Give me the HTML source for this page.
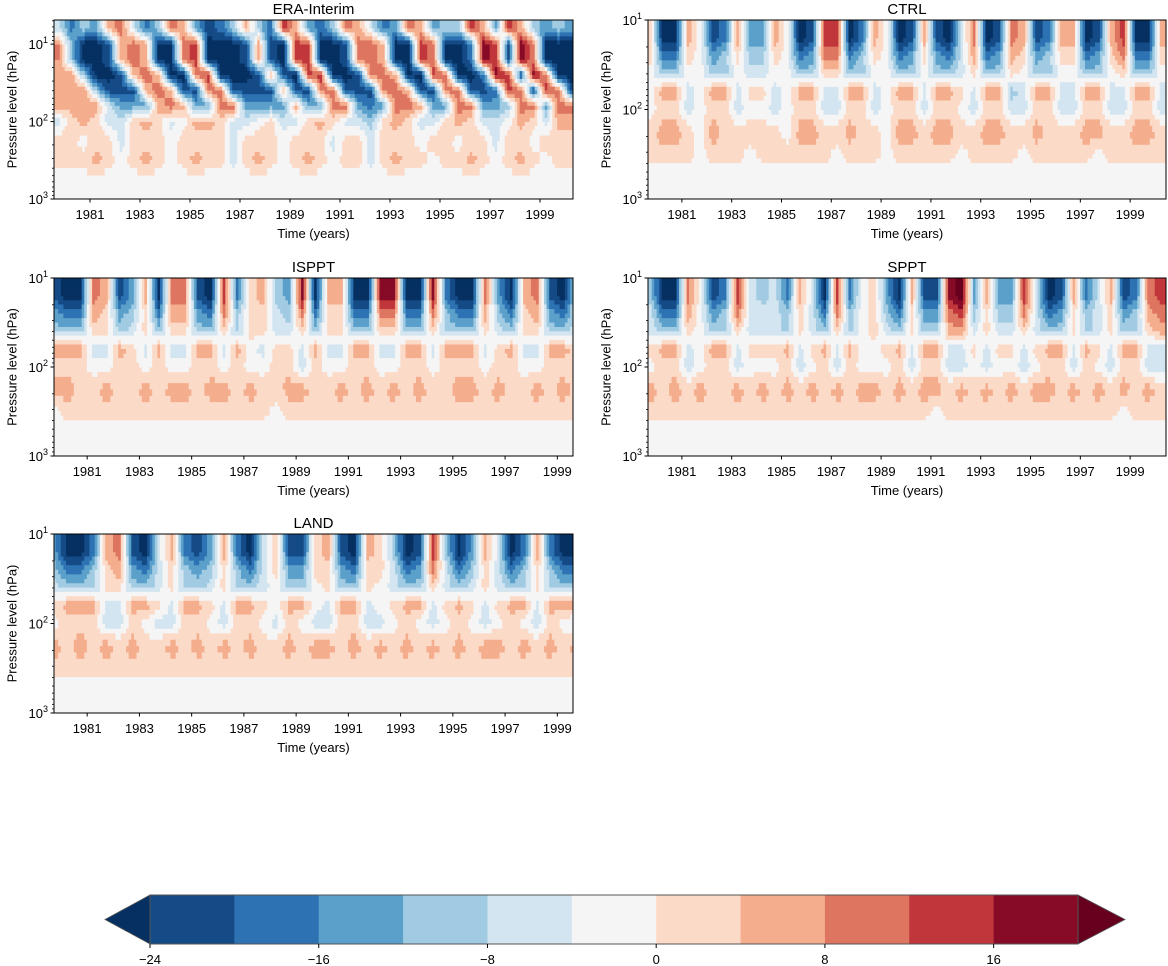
<!DOCTYPE html>
<html><head><meta charset="utf-8"><title>Zonal wind time-pressure panels</title>
<style>
html,body{margin:0;padding:0;background:#fff;}
svg{display:block;font-family:"Liberation Sans","DejaVu Sans",sans-serif;}
</style></head>
<body>
<svg id="fig" width="1168" height="966" viewBox="0 0 1168 966" xmlns="http://www.w3.org/2000/svg"></svg>
<script>
// ---- shared data ----
const colLevels = [-24,-20,-16,-12,-8,-4,0,4,8,12,16,20];
const binColors = ['#144b86','#2d73b3','#5aa0ca','#a0cbe2','#d3e5f0','#f5f5f5','#fcdac8','#f4ae8d','#de7561','#c0363b','#870b27'];
const underColor = '#053061';
const overColor = '#67001f';
const cbTickLabels = [-24,-16,-8,0,8,16];
const xTickYears = [1981,1983,1985,1987,1989,1991,1993,1995,1997,1999];
const colStart = 1979.5;   // first half-year column start
const colWidthYears = 0.5;
// pressure boundaries of rows (hPa), top to bottom
const eraBounds = [5,8,13,20,32,50,80,130,250,400,1000];
const modelBounds = [10,13,20,32,50,80,130,250,400,1000];

// ---- ERA-Interim (rows 5-8 ... 400-1000 hPa), m/s ----
const eraR0=[-6,-18,-10,-14,6,10,-6,-18,-10,10,6,-14,-22,-18,-10,6,-10,-18,14,6,-14,-18,-10,10,6,-6,-18,-14,10,6,-14,-10,-10,14,6,-14,14,6,-10,-14,-10,-14];
const eraR1=[8,-10,-26,-26,-22,6,10,6,-26,-26,10,14,-26,-26,-26,-22,6,-22,-26,14,14,-26,-26,-22,10,10,6,-26,-26,14,10,-26,-26,-18,18,14,-22,18,10,-26,-26,-26];
const eraR2=[8,-10,-26,-26,-22,6,10,6,-26,-26,10,14,-26,-26,-26,-22,6,-22,-26,14,14,-26,-26,-22,10,10,6,-26,-26,14,10,-26,-26,-18,18,14,-22,18,10,-26,-26,-26];
const eraR3=[6,8,-10,-26,-26,-22,6,10,6,-26,-26,10,14,-26,-26,-26,-22,6,-22,-26,14,14,-26,-26,-22,10,10,6,-26,-26,14,10,-26,-26,-18,18,14,-22,18,10,-26,-26];
const eraR4=[6,6,8,-10,-22,-22,-22,6,10,6,-22,-22,10,10,-22,-22,-22,-22,6,-22,-22,10,10,-22,-22,-22,10,10,6,-22,-22,10,10,-22,-22,-18,14,10,-22,14,10,-22];
const eraR5=[6,6,6,6,-6,-14,-14,-14,6,10,6,-14,-14,10,10,-14,-14,-14,-14,6,-14,-14,10,10,-14,-18,-14,10,10,6,-14,-14,10,10,-14,-14,-10,10,10,-14,10,10];
const eraR6=[-6,2,6,2,-6,-6,2,6,2,-6,-2,6,6,2,-6,-6,-2,2,-6,-6,2,6,2,-6,-6,-10,2,6,2,-6,-6,2,6,2,-6,-6,-2,6,2,-6,6,6];
const eraR7=[2,2,-2,2,2,-6,2,2,2,-2,2,2,2,2,-6,2,2,2,-2,2,2,2,-6,2,2,-6,2,2,2,-2,2,2,-2,2,2,-6,2,2,-2,2,2,2];
const eraR8=[2,2,2,6,2,-2,2,6,2,-2,2,6,2,2,-6,2,6,2,-2,2,6,2,-2,2,2,-6,2,6,2,2,-2,2,2,6,2,-2,2,6,2,-2,2,2];
const eraR9=[-2,-2,-2,-2,-2,-2,-2,-2,-2,-2,-2,-2,-2,-2,-2,-2,-2,-2,-2,-2,-2,-2,-2,-2,-2,-2,-2,-2,-2,-2,-2,-2,-2,-2,-2,-2,-2,-2,-2,-2,-2,-2];

// ---- CTRL ----
const ctrlR1=[2,-26,-26,6,-2,-22,-18,6,-14,-14,6,-2,-26,-22,14,14,-26,-18,6,-2,-26,-22,6,-22,-26,-6,10,-26,-22,10,6,-22,-18,6,6,-26,-22,6,14,-26,-26,6];
const ctrlR2=[2,-26,-26,6,-2,-22,-18,6,-14,-14,6,-2,-26,-22,14,14,-26,-18,6,-2,-26,-22,6,-22,-26,-6,10,-26,-22,10,6,-22,-18,6,6,-26,-22,6,14,-26,-26,6];
const ctrlR3=[2,-18,-18,2,-2,-14,-10,2,-10,-10,2,-2,-18,-14,10,10,-18,-10,2,-2,-18,-14,2,-14,-18,-6,6,-18,-14,6,2,-14,-10,2,2,-18,-14,2,10,-18,-18,2];
const ctrlR4=[-2,-10,-10,-2,-2,-10,-10,-2,-6,-6,-2,-2,-10,-10,2,2,-10,-10,-2,-2,-10,-10,-2,-10,-10,-6,2,-10,-10,2,-2,-10,-10,-2,-2,-10,-10,-2,2,-10,-10,-2];
const ctrlR5=[-2,6,6,-6,-2,6,6,-6,2,2,-6,-2,6,6,-6,-6,6,6,-6,-2,6,6,-6,6,6,2,-6,6,6,-10,-6,6,6,-6,-6,6,6,-6,-6,6,6,-6];
const ctrlR6=[-2,2,2,-6,-2,2,2,-6,-2,-2,-6,-2,2,2,-6,-6,2,2,-6,-2,2,2,-6,2,2,-2,-6,2,2,-6,-6,2,2,-6,-6,2,2,-6,-6,2,2,-6];
const ctrlR7=[2,6,6,2,-2,6,2,2,2,2,2,-2,6,6,2,2,6,2,2,-2,6,6,2,6,6,2,2,6,6,2,2,6,2,2,2,6,6,2,2,6,6,2];
const ctrlR8=[2,2,2,2,-2,2,2,2,-2,2,2,2,2,2,2,-2,2,2,2,-2,2,2,2,2,2,-2,2,2,2,2,-2,2,2,2,2,2,-2,2,2,2,2,2];
const ctrlR9=[-2,-2,-2,-2,-2,-2,-2,-2,-2,-2,-2,-2,-2,-2,-2,-2,-2,-2,-2,-2,-2,-2,-2,-2,-2,-2,-2,-2,-2,-2,-2,-2,-2,-2,-2,-2,-2,-2,-2,-2,-2,-2];

// ---- ISPPT ----
const isR1=[-22,-26,-26,10,6,-22,-14,6,-26,10,10,-22,-26,14,-18,2,6,-10,-14,18,-26,6,6,-26,-26,18,18,-26,-26,18,-18,-26,-26,10,-14,-26,6,10,-22,-26,-6,-6];
const isR2=[-22,-26,-26,10,6,-22,-14,6,-26,10,10,-22,-26,14,-18,2,6,-10,-14,18,-26,6,6,-26,-26,18,18,-26,-26,18,-18,-26,-26,10,-14,-26,6,10,-22,-26,-6,-6];
const isR3=[-14,-18,-18,6,2,-14,-10,2,-18,6,6,-14,-18,10,-10,2,2,-6,-10,10,-18,2,2,-18,-18,10,10,-18,-18,10,-10,-18,-18,6,-10,-18,2,6,-14,-18,-6,-6];
const isR4=[-10,-10,-10,2,2,-10,-6,2,-10,2,2,-10,-10,2,-10,2,2,-6,-6,2,-10,2,2,-10,-10,2,2,-10,-10,2,-10,-10,-10,2,-6,-10,2,2,-10,-10,-6,-6];
const isR5=[6,6,6,-6,-6,6,2,-6,6,-6,-6,6,6,-6,6,-2,-6,2,2,-6,6,-6,-6,6,6,-6,-6,6,6,-6,6,6,6,-6,2,6,-6,-6,6,6,2,2];
const isR6=[2,2,2,-2,-2,2,2,-2,2,-2,-2,2,2,-2,2,-2,-2,2,2,-6,2,-2,-2,2,2,-2,-2,2,2,-2,2,2,2,-2,2,2,-2,-2,2,2,2,2];
const isR7=[6,6,2,2,6,2,2,6,2,6,6,2,6,6,2,6,2,2,6,6,2,2,6,2,6,2,6,2,6,2,2,6,6,2,6,2,2,6,2,6,2,2];
const isR8=[-2,2,2,2,2,2,2,2,2,2,2,2,2,2,2,2,2,-2,2,2,2,2,2,2,2,2,2,2,2,2,2,2,2,2,2,2,2,2,2,2,2,2];
const isR9=[-2,-2,-2,-2,-2,-2,-2,-2,-2,-2,-2,-2,-2,-2,-2,-2,-2,-2,-2,-2,-2,-2,-2,-2,-2,-2,-2,-2,-2,-2,-2,-2,-2,-2,-2,-2,-2,-2,-2,-2,-2,-2];

// ---- SPPT ----
const spR1=[-10,-26,-26,10,-2,-22,-18,14,-6,-10,-6,-18,6,-6,-26,14,-18,-2,2,-14,-26,6,-22,-22,18,22,-14,6,-14,-14,14,-6,-26,-22,6,-18,-6,6,-22,-18,10,14];
const spR2=[-10,-26,-26,10,-2,-22,-18,14,-6,-10,-6,-18,6,-6,-26,14,-18,-2,2,-14,-26,6,-22,-22,18,22,-14,6,-14,-14,14,-6,-26,-22,6,-18,-6,6,-22,-18,10,14];
const spR3=[-6,-18,-18,6,-2,-14,-10,10,-6,-6,-6,-10,2,-6,-18,10,-10,-2,2,-10,-18,2,-14,-14,10,14,-10,2,-10,-10,10,-6,-18,-14,2,-10,-6,2,-14,-10,6,10];
const spR4=[-6,-10,-10,2,-2,-10,-10,2,-6,-6,-6,-10,2,-6,-10,2,-10,-2,2,-6,-10,2,-10,-10,6,6,-6,2,-6,-6,2,-6,-10,-10,2,-10,-6,2,-10,-10,2,6];
const spR5=[2,6,6,-6,-2,6,6,-6,2,2,2,6,-6,2,6,-6,6,-2,-2,2,6,-6,6,6,-6,-6,2,-6,2,2,-6,2,6,6,-6,6,2,-6,6,6,-6,-6];
const spR6=[-2,2,2,-6,-2,2,2,-6,-2,-2,-2,2,-6,-2,2,-6,2,-2,-2,-2,2,-6,2,2,-6,-6,-2,-6,-2,-2,-6,-2,2,2,-6,2,-2,-6,2,2,-6,-6];
const spR7=[6,2,6,2,6,2,2,6,2,6,2,6,2,6,2,6,2,6,6,2,6,2,6,6,2,6,2,6,2,6,2,6,6,2,6,2,6,2,6,2,6,2];
const spR8=[2,2,2,2,2,2,2,2,2,2,2,2,2,2,2,2,2,2,2,2,2,2,2,-2,2,2,2,2,2,2,2,2,2,2,2,2,2,2,-2,2,2,2];
const spR9=[-2,-2,-2,-2,-2,-2,-2,-2,-2,-2,-2,-2,-2,-2,-2,-2,-2,-2,-2,-2,-2,-2,-2,-2,-2,-2,-2,-2,-2,-2,-2,-2,-2,-2,-2,-2,-2,-2,-2,-2,-2,-2];

// ---- LAND ----
const laR1=[-14,-26,-26,-18,6,10,-22,-26,-6,6,-18,-22,-14,6,-18,-26,-6,2,-22,-22,2,6,-22,-26,6,2,-10,-26,-22,14,-10,-26,-14,6,-6,-26,-18,6,-18,-26,-26,-22];
const laR2=[-14,-26,-26,-18,6,10,-22,-26,-6,6,-18,-22,-14,6,-18,-26,-6,2,-22,-22,2,6,-22,-26,6,2,-10,-26,-22,14,-10,-26,-14,6,-6,-26,-18,6,-18,-26,-26,-22];
const laR3=[-10,-18,-18,-10,2,6,-14,-18,-6,2,-10,-14,-10,2,-10,-18,-6,2,-14,-14,2,2,-14,-18,2,2,-6,-18,-14,10,-6,-18,-10,2,-6,-18,-10,2,-10,-18,-18,-14];
const laR4=[-6,-10,-10,-10,2,2,-10,-10,-6,2,-10,-10,-6,2,-10,-10,-6,-2,-10,-10,-2,2,-10,-10,2,-2,-6,-10,-10,2,-6,-10,-6,2,-6,-10,-10,2,-10,-10,-10,-10];
const laR5=[2,6,6,6,-6,-6,6,6,2,-6,6,6,2,-6,6,6,2,-2,6,6,-2,-6,6,6,-6,-2,2,6,6,-6,2,6,2,-6,2,6,6,-6,6,6,6,6];
const laR6=[-2,2,2,2,-6,-6,2,-2,-6,-6,2,2,-2,-6,2,2,-2,-6,2,-2,-6,-6,2,2,-6,-6,-2,2,-2,-6,-2,2,-2,-6,-2,2,-2,-6,2,-2,-6,-2];
const laR7=[6,2,6,2,6,2,6,2,2,6,2,6,2,6,2,6,2,2,6,2,6,6,2,6,2,6,2,6,2,6,2,6,2,6,6,2,6,2,6,2,6,2];
const laR8=[2,2,2,2,2,2,2,2,2,2,2,2,2,2,2,2,2,2,2,2,2,2,2,2,2,2,2,2,2,2,2,2,2,2,2,2,2,2,2,2,2,2];
const laR9=[-2,-2,-2,-2,-2,-2,-2,-2,-2,-2,-2,-2,-2,-2,-2,-2,-2,-2,-2,-2,-2,-2,-2,-2,-2,-2,-2,-2,-2,-2,-2,-2,-2,-2,-2,-2,-2,-2,-2,-2,-2,-2];

const panels = [
  {name:'ERA-Interim', id:'era', x0:54, x1:573, y0:20, y1:199, pTop:4.88, t0:1979.56, t1:2000.32, bounds:eraBounds,
   rows:[eraR0,eraR1,eraR2,eraR3,eraR4,eraR5,eraR6,eraR7,eraR8,eraR9]},
  {name:'CTRL', id:'ctrl', x0:648, x1:1166, y0:20, y1:199, pTop:10, t0:1979.64, t1:2000.44, bounds:modelBounds,
   rows:[ctrlR1,ctrlR2,ctrlR3,ctrlR4,ctrlR5,ctrlR6,ctrlR7,ctrlR8,ctrlR9]},
  {name:'ISPPT', id:'isppt', x0:54, x1:573, y0:278, y1:456, pTop:10, t0:1979.73, t1:1999.6, bounds:modelBounds,
   rows:[isR1,isR2,isR3,isR4,isR5,isR6,isR7,isR8,isR9]},
  {name:'SPPT', id:'sppt', x0:648, x1:1166, y0:278, y1:456, pTop:10, t0:1979.64, t1:2000.44, bounds:modelBounds,
   rows:[spR1,spR2,spR3,spR4,spR5,spR6,spR7,spR8,spR9]},
  {name:'LAND', id:'land', x0:54, x1:573, y0:534, y1:713, pTop:10, t0:1979.73, t1:1999.6, bounds:modelBounds,
   rows:[laR1,laR2,laR3,laR4,laR5,laR6,laR7,laR8,laR9]}
];

const NS='http://www.w3.org/2000/svg';
const svg=document.getElementById('fig');
function mk(tag, parent){const e=document.createElementNS(NS,tag);(parent||svg).appendChild(e);return e;}
function colorFor(v){
  if(v<colLevels[0]) return underColor;
  if(v>=colLevels[colLevels.length-1]) return overColor;
  let b=Math.floor((v-colLevels[0])/4);
  return binColors[b];
}

const SUBX=5, SUBY=4;
panels.forEach(function(P){
  const xs=t=>P.x0+(t-P.t0)/(P.t1-P.t0)*(P.x1-P.x0);
  const ys=p=>P.y0+(Math.log10(p)-Math.log10(P.pTop))/(3-Math.log10(P.pTop))*(P.y1-P.y0);
  const g=mk('g');
  
  
  const cp=mk('clipPath',g); cp.setAttribute('id','clip-'+P.id);
  const cr=mk('rect',cp); cr.setAttribute('x',P.x0); cr.setAttribute('y',P.y0);
  cr.setAttribute('width',P.x1-P.x0); cr.setAttribute('height',P.y1-P.y0);
  const bg=mk('rect',g); bg.setAttribute('x',P.x0); bg.setAttribute('y',P.y0);
  bg.setAttribute('width',P.x1-P.x0); bg.setAttribute('height',P.y1-P.y0); bg.setAttribute('fill','#f5f5f5');
  
  
  const cells=mk('g',g); cells.setAttribute('clip-path','url(#clip-'+P.id+')');
  
  
  const nR=P.rows.length, nC=P.rows[0].length;
  // value lookup at fractional grid position (bilinear between cell centres, for smooth contour look)
  function val(fr, fc){
    fr=Math.max(0,Math.min(nR-1,fr)); fc=Math.max(0,Math.min(nC-1,fc));
    const r0=Math.floor(fr), c0=Math.floor(fc);
    const r1=Math.min(nR-1,r0+1), c1=Math.min(nC-1,c0+1);
    const dr=fr-r0, dc=fc-c0;
    const a=P.rows[r0][c0]*(1-dc)+P.rows[r0][c1]*dc;
    const b=P.rows[r1][c0]*(1-dc)+P.rows[r1][c1]*dc;
    return a*(1-dr)+b*dr;
  }
  for(let ri=0;ri<nR;ri++){
    const lpa=Math.log10(Math.max(P.bounds[ri],P.pTop)), lpb=Math.log10(P.bounds[ri+1]);
    for(let sy=0;sy<SUBY;sy++){
      const la=lpa+(lpb-lpa)*sy/SUBY, lb=lpa+(lpb-lpa)*(sy+1)/SUBY;
      const ya=ys(Math.pow(10,la)), yb=ys(Math.pow(10,lb));
      const fr=ri+(sy+0.5)/SUBY-0.5;
      let runStart=null, runColor=null;
      const total=nC*SUBX;
      for(let k=0;k<=total;k++){
        let c=null;
        if(k<total){ const fc=k/SUBX+0.5/SUBX-0.5; c=colorFor(val(fr,fc)); }
        if(c!==runColor){
          if(runColor!==null){
            const ta=colStart+runStart/SUBX*colWidthYears, tb=colStart+k/SUBX*colWidthYears;
            const r=mk('rect',cells);
            r.setAttribute('x',(xs(ta)-0.3).toFixed(2));
            r.setAttribute('y',(ya-0.3).toFixed(2));
            r.setAttribute('width',(xs(tb)-xs(ta)+0.6).toFixed(2));
            r.setAttribute('height',(yb-ya+0.6).toFixed(2));
            r.setAttribute('fill',runColor);
            
            
          }
          runStart=k; runColor=c;
        }
      }
    }
  }
  const fr=mk('rect',g); fr.setAttribute('x',P.x0); fr.setAttribute('y',P.y0);
  fr.setAttribute('width',P.x1-P.x0); fr.setAttribute('height',P.y1-P.y0);
  fr.setAttribute('fill','none'); fr.setAttribute('stroke','#000'); fr.setAttribute('stroke-width','1');
  
  
  const ti=mk('text',g); ti.textContent=P.name;
  ti.setAttribute('x',(P.x0+P.x1)/2); ti.setAttribute('y',P.y0-6);
  ti.setAttribute('text-anchor','middle'); ti.setAttribute('font-size','15');
  
  
  xTickYears.forEach(function(yr){
    const x=xs(yr);
    const tk=mk('line',g); tk.setAttribute('x1',x); tk.setAttribute('x2',x);
    tk.setAttribute('y1',P.y1); tk.setAttribute('y2',P.y1+3.5); tk.setAttribute('stroke','#000');
    
    
    const tl=mk('text',g); tl.textContent=yr;
    tl.setAttribute('x',x); tl.setAttribute('y',P.y1+20); tl.setAttribute('text-anchor','middle'); tl.setAttribute('font-size','13');
    
    
  });
  const xl=mk('text',g); xl.textContent='Time (years)';
  xl.setAttribute('x',(P.x0+P.x1)/2); xl.setAttribute('y',P.y1+39); xl.setAttribute('text-anchor','middle'); xl.setAttribute('font-size','13');
  
  
  [1,2,3].forEach(function(e){
    const y=ys(Math.pow(10,e));
    const tk=mk('line',g); tk.setAttribute('x1',P.x0-3.5); tk.setAttribute('x2',P.x0);
    tk.setAttribute('y1',y); tk.setAttribute('y2',y); tk.setAttribute('stroke','#000');
    
    
    const tl=mk('text',g);
    tl.setAttribute('x',P.x0-6); tl.setAttribute('y',y+5); tl.setAttribute('text-anchor','end'); tl.setAttribute('font-size','13');
    
    
    const t1=mk('tspan',tl); t1.textContent='10';
    const t2=mk('tspan',tl); t2.textContent=String(e); t2.setAttribute('font-size','9'); t2.setAttribute('dy','-6');
  });
  [0,1,2].forEach(function(e){
    [2,3,4,5,6,7,8,9].forEach(function(m){
      const p=m*Math.pow(10,e);
      if(p<P.pTop||p>1000) return;
      const y=ys(p);
      const tk=mk('line',g); tk.setAttribute('x1',P.x0-2); tk.setAttribute('x2',P.x0);
      tk.setAttribute('y1',y); tk.setAttribute('y2',y); tk.setAttribute('stroke','#000'); tk.setAttribute('stroke-width','0.8');
      
      
    });
  });
  const yl=mk('text',g); yl.textContent='Pressure level (hPa)';
  const cy=(P.y0+P.y1)/2, cx=P.x0-42;
  yl.setAttribute('x',cx); yl.setAttribute('y',cy); yl.setAttribute('text-anchor','middle'); yl.setAttribute('font-size','13');
  yl.setAttribute('dominant-baseline','central');
  yl.setAttribute('transform','rotate(-90 '+cx+' '+cy+')');
  
  
});

// ---- colorbar ----
(function(){
  const cx0=150, cx1=1078, cy0=895, cy1=944;
  const cbx=v=>cx0+(v-colLevels[0])/(colLevels[colLevels.length-1]-colLevels[0])*(cx1-cx0);
  const g=mk('g');
  
  
  const lt=mk('polygon',g);
  lt.setAttribute('points',cx0+','+cy0+' '+(cx0-45)+','+((cy0+cy1)/2)+' '+cx0+','+cy1);
  lt.setAttribute('fill',underColor); lt.setAttribute('stroke','#555'); lt.setAttribute('stroke-width','0.8');
  
  
  const rt=mk('polygon',g);
  rt.setAttribute('points',cx1+','+cy0+' '+(cx1+47)+','+((cy0+cy1)/2)+' '+cx1+','+cy1);
  rt.setAttribute('fill',overColor); rt.setAttribute('stroke','#555'); rt.setAttribute('stroke-width','0.8');
  
  
  for(let i=0;i<binColors.length;i++){
    const a=cbx(colLevels[i]), b=cbx(colLevels[i+1]);
    const r=mk('rect',g); r.setAttribute('x',a); r.setAttribute('y',cy0); r.setAttribute('width',b-a+0.5); r.setAttribute('height',cy1-cy0);
    r.setAttribute('fill',binColors[i]);
    
    
  }
  const fr=mk('rect',g); fr.setAttribute('x',cx0); fr.setAttribute('y',cy0); fr.setAttribute('width',cx1-cx0); fr.setAttribute('height',cy1-cy0);
  fr.setAttribute('fill','none'); fr.setAttribute('stroke','#555'); fr.setAttribute('stroke-width','1');
  
  
  cbTickLabels.forEach(function(v){
    const x=cbx(v);
    const tk=mk('line',g); tk.setAttribute('x1',x); tk.setAttribute('x2',x); tk.setAttribute('y1',cy1); tk.setAttribute('y2',cy1+4); tk.setAttribute('stroke','#000');
    
    
    const tl=mk('text',g); tl.textContent=(v<0?'\u2212'+Math.abs(v):String(v));
    tl.setAttribute('x',x); tl.setAttribute('y',cy1+20); tl.setAttribute('text-anchor','middle'); tl.setAttribute('font-size','13');
    
    
  });
})();
</script>
</body></html>
